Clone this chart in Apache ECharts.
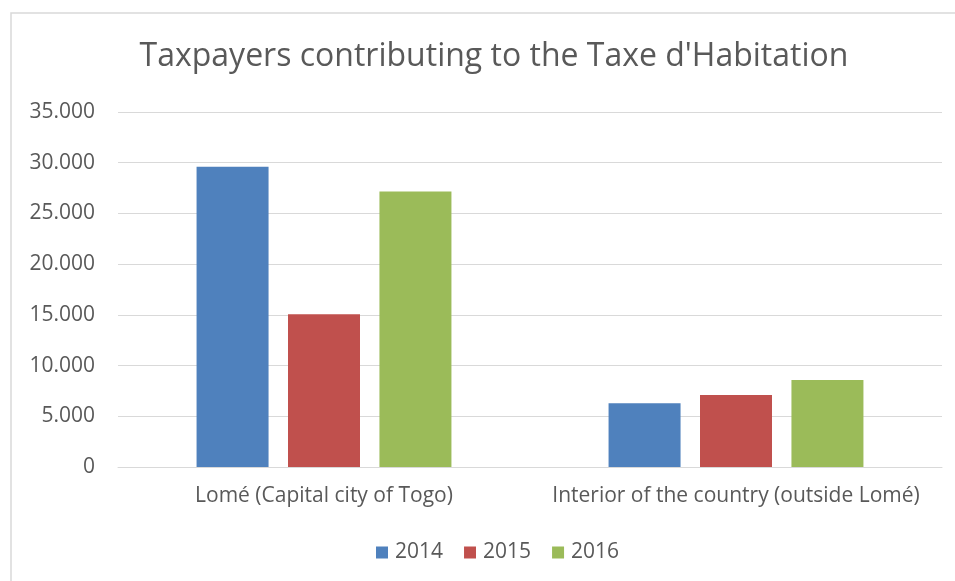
<!DOCTYPE html>
<html>
<head>
<meta charset="utf-8">
<script src="https://cdn.jsdelivr.net/npm/echarts@6/dist/echarts.min.js"></script>
<style>
  html, body { margin: 0; padding: 0; background: #fff; }
  #chart { width: 955px; height: 581px; }
</style>
</head>
<body>
<div id="chart"></div>
<script>
const categories = ['Lomé (Capital city of Togo)', 'Interior of the country (outside Lomé)'];
const years = ['2014', '2015', '2016'];
const values2014 = [29600, 6280];
const values2015 = [15050, 7100];
const values2016 = [27150, 8580];
const colors = ['#4f81bd', '#c0504d', '#9bbb59'];

const font = '"Open Sans", "Noto Sans", sans-serif';
const textColor = '#595959';

// thousands separator with a dot, like the source
const fmt = v => String(v).replace(/\B(?=(\d{3})+(?!\d))/g, '.');

const chart = echarts.init(document.getElementById('chart'), null, { renderer: 'canvas' });

const seriesData = [values2014, values2015, values2016];

chart.setOption({
  backgroundColor: '#fff',
  animation: false,
  graphic: [{
    type: 'rect',
    shape: { x: 11, y: 13, width: 960, height: 600 },
    style: { fill: 'none', stroke: '#d9d9d9', lineWidth: 1.5 },
    silent: true
  }],
  title: {
    text: "Taxpayers contributing to the Taxe d'Habitation",
    left: 489,
    textAlign: 'center',
    top: 36,
    textStyle: { fontFamily: font, fontSize: 32, fontWeight: 'normal', color: textColor }
  },
  legend: {
    top: 537,
    left: 371,
    itemWidth: 12,
    itemHeight: 12,
    itemGap: 21,
    icon: 'rect',
    textStyle: { fontFamily: font, fontSize: 21, color: textColor, padding: [0, 0, 0, 2] }
  },
  grid: { left: 118, right: 13, top: 112, bottom: 114 },
  xAxis: {
    type: 'category',
    data: categories,
    axisTick: { show: false },
    axisLine: { lineStyle: { color: '#d9d9d9', width: 1 } },
    axisLabel: {
      interval: 0,
      hideOverlap: false,
      fontFamily: font, fontSize: 21, color: textColor, margin: 19
    }
  },
  yAxis: {
    type: 'value',
    min: 0,
    max: 35000,
    interval: 5000,
    axisLine: { show: false },
    axisTick: { show: false },
    splitLine: { lineStyle: { color: '#d9d9d9', width: 1 } },
    axisLabel: { fontFamily: font, fontSize: 21, color: textColor, margin: 23, formatter: fmt }
  },
  series: years.map((y, i) => ({
    name: y,
    type: 'bar',
    data: seriesData[i],
    barWidth: 72,
    barGap: '27%',
    itemStyle: { color: colors[i] }
  }))
});
</script>
</body>
</html>
